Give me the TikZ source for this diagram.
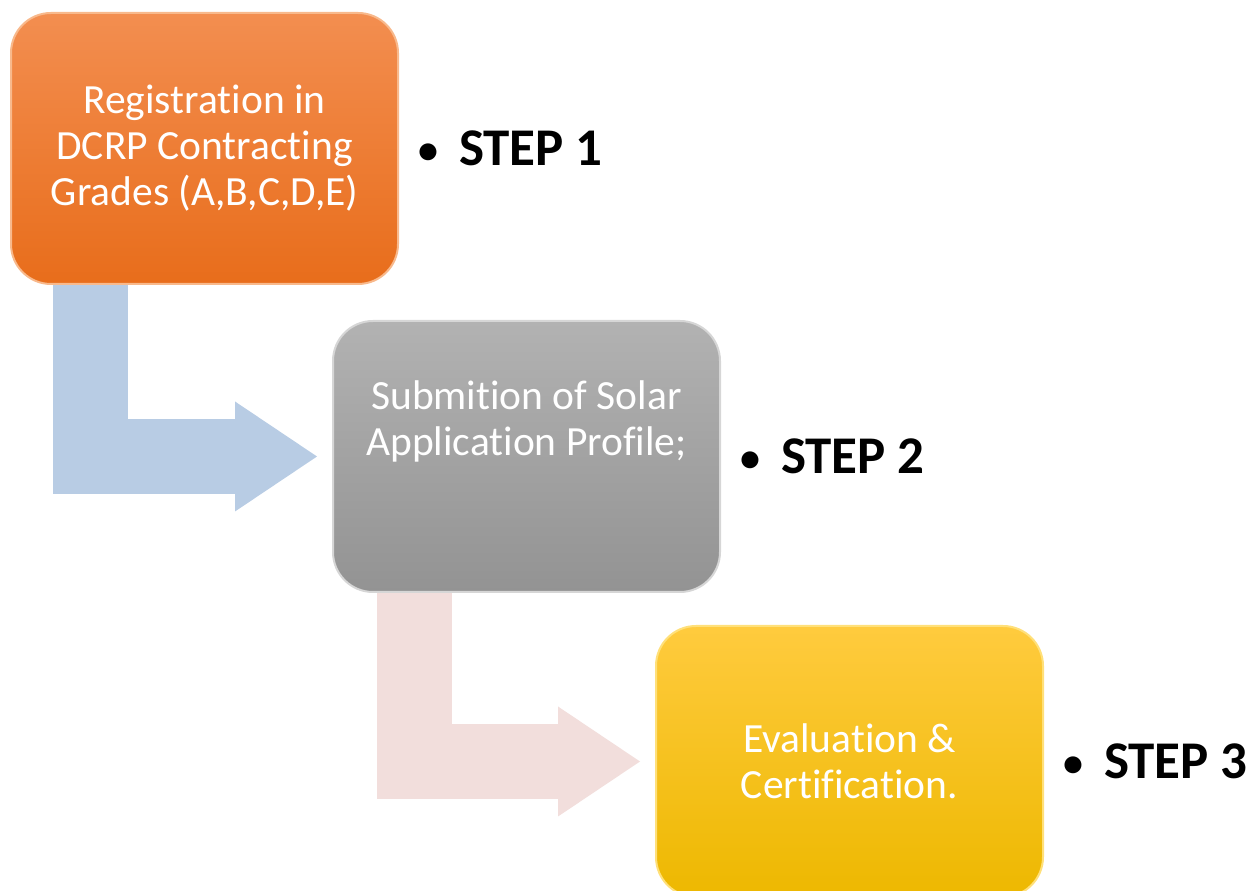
\documentclass[tikz,border=0pt]{standalone}
\usepackage{fontspec}
\setmainfont{Carlito}[Ligatures=NoCommon]
\usetikzlibrary{positioning,arrows.meta}
\definecolor{orangetop}{HTML}{F38E50}
\definecolor{orangebot}{HTML}{E86D1B}
\definecolor{orangeedge}{HTML}{F8B98C}
\definecolor{greytop}{HTML}{B2B2B2}
\definecolor{greybot}{HTML}{939393}
\definecolor{greyedge}{HTML}{D6D6D6}
\definecolor{yellowtop}{HTML}{FFCB3E}
\definecolor{yellowbot}{HTML}{EDB800}
\definecolor{yellowedge}{HTML}{FFE07A}
\definecolor{arrowblue}{HTML}{B8CCE4}
\definecolor{arrowpink}{HTML}{F2DEDC}
\newcommand{\stepdot}{\raisebox{2.5pt}{\fontsize{40}{40}\selectfont\textbullet}\hspace{21pt}}

\begin{document}
\begin{tikzpicture}[x=1pt,y=1pt,
    stepbox/.style={rounded corners=40pt,minimum width=387pt,minimum height=271pt,
        line width=2pt,text=white,align=center,font=\fontsize{41.5}{46}\selectfont},
    boxtext/.style={text=white,align=center,font=\fontsize{41.5}{46}\selectfont},
    steplabel/.style={anchor=west,inner sep=0pt,font=\fontsize{53}{60}\selectfont\bfseries},
    bentarrow/.style={line width=75pt,-{Triangle[length=82pt,width=110pt,line width=0pt]},shorten >=15pt}]
    \useasboundingbox (0,0) rectangle (1256,891);
    % the three steps
    \node[stepbox,top color=orangetop,bottom color=orangebot,draw=orangeedge,anchor=north west]
        (reg) at (10,879) {Registration in\\DCRP Contracting\\Grades (A,B,C,D,E)};
    \node[stepbox,top color=greytop,bottom color=greybot,draw=greyedge,
        below right=35pt and -67pt of reg] (sub) {};
    \node[boxtext] (subtext) at ([yshift=35pt]sub.center) {Submition of Solar\\Application Profile;};
    \node[stepbox,top color=yellowtop,bottom color=yellowbot,draw=yellowedge,
        below right=32pt and -66pt of sub] (eval) {Evaluation \&\\Certification.};
    % bent arrows
    \draw[bentarrow,arrowblue] ([xshift=80pt]reg.south west) |- (sub.west);
    \draw[bentarrow,arrowpink] ([xshift=82pt]sub.south west) |- (eval.west);
    % labels
    \node[steplabel,right=19pt of reg] (s1) {\stepdot STEP 1};
    \node[steplabel,right=19pt of sub] (s2) {\stepdot STEP 2};
    \node[steplabel,right=19pt of eval] (s3) {\stepdot STEP 3};
\end{tikzpicture}
\end{document}
